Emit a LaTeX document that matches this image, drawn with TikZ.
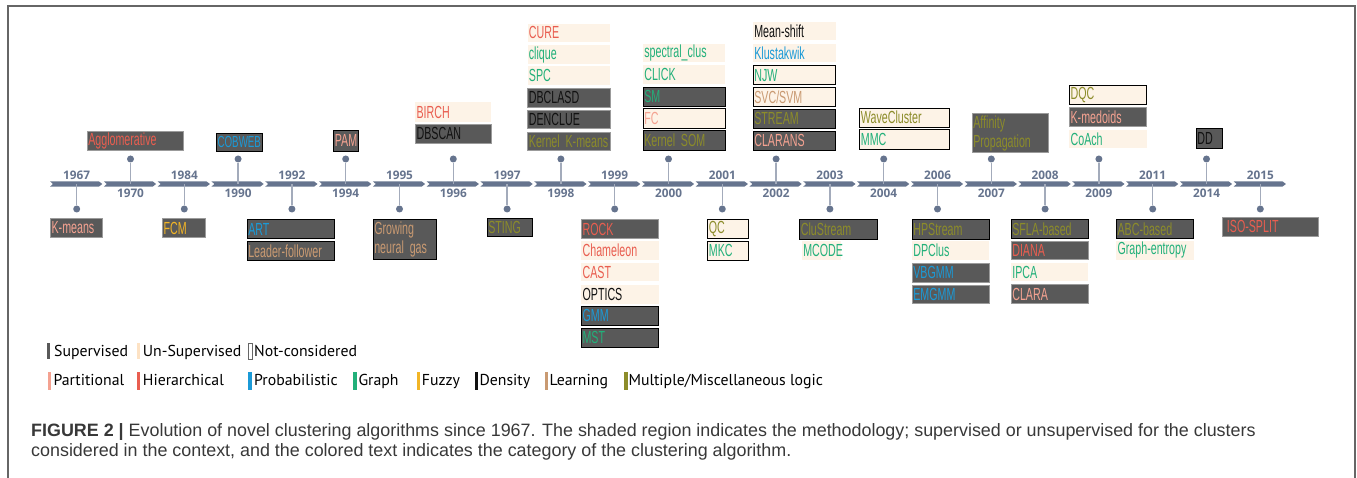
\documentclass[tikz,border=0pt]{standalone}
\usepackage{fontspec}
\setmainfont{Liberation Sans}
\newfontfamily\condf[FakeStretch=0.61]{Liberation Sans}
\newfontfamily\yearf{Open Sans}
\newfontfamily\legf{PT Sans}
\definecolor{supfill}{HTML}{595959}
\definecolor{unsfill}{HTML}{FDF3E7}
\definecolor{partc}{HTML}{F4A291}
\definecolor{hierc}{HTML}{E95E50}
\definecolor{probc}{HTML}{1B9AD7}
\definecolor{graphc}{HTML}{22B07A}
\definecolor{fuzzyc}{HTML}{F2B526}
\definecolor{densc}{HTML}{111111}
\definecolor{learnc}{HTML}{C99A72}
\definecolor{multc}{HTML}{8C8C2A}
\definecolor{barc}{HTML}{66748E}
\definecolor{stemc}{HTML}{A3ABBB}
\definecolor{framec}{HTML}{666666}
\definecolor{capc}{HTML}{383838}
\tikzset{
  abase/.style={inner xsep=1.2pt, inner ysep=0pt, align=left, font=\condf\fontsize{17.5}{19}\selectfont, line width=0.8pt},
  sup/.style={abase, fill=supfill, draw=supfill!60!white},
  supk/.style={abase, fill=supfill, draw=black},
  uns/.style={abase, fill=unsfill},
  ncb/.style={abase, fill=unsfill, draw=black},
  yearlab/.style={font=\yearf\bfseries\fontsize{11.8}{12}\selectfont, text=barc, inner sep=0pt},
  dotn/.style={circle, fill=barc, inner sep=0pt, minimum size=7pt},
  stem/.style={draw=stemc, line width=1.4pt},
  legtext/.style={font=\legf\fontsize{15.8}{17}\selectfont, text=black, anchor=base west, inner sep=0pt},
  capt/.style={font=\fontsize{17.9}{20}\selectfont, text=capc, anchor=base west, inner sep=0pt},
}
\newcommand\algbox[8]{%
  \pgfmathsetmacro\bw{#5-#3}\pgfmathsetmacro\bh{#6-#4}\pgfmathsetmacro\tw{#5-#3-2.4}%
  \node[#1, text=#7, minimum width=\bw pt, minimum height=\bh pt, text width=\tw pt, anchor=north west] (#2) at (#3,#4) {\mbox{#8}};}
\newcommand\algboxii[8]{%
  \pgfmathsetmacro\bw{#5-#3}\pgfmathsetmacro\bh{#6-#4}\pgfmathsetmacro\tw{#5-#3-2.4}%
  \node[#1, text=#7, minimum width=\bw pt, minimum height=\bh pt, text width=\tw pt, anchor=north west] (#2) at (#3,#4) {#8};}
\begin{document}
\begin{tikzpicture}[x=1pt,y=-1pt]
\useasboundingbox (0,0) rectangle (1357,478);
% frame
\draw[framec, line width=1.5pt] (8,478) -- (8,6) -- (1355,6) -- (1355,478);
% timeline
\foreach \yr [count=\i from 0] in {1967,1970,1984,1990,1992,1994,1995,1996,1997,1998,1999,2000,2001,2002,2003,2004,2006,2007,2008,2009,2011,2014,2015}{
  \pgfmathsetmacro\L{50+53.8*\i}
  \pgfmathsetmacro\R{\L+52.3}
  \pgfmathsetmacro\C{76.7+53.8*\i}
  \fill[barc] (\L,181.3) -- (\R-3.5,181.3) -- (\R,184) -- (\R-3.5,186.7) -- (\L,186.7) -- (\L+3,184) -- cycle;
  \coordinate (bar\i) at (\C,184);
  \ifodd\i
    \node[yearlab] (yr\i) at (\C,193.5) {\yr};
    \node[dotn] (dot\i) at (\C,159) {};
    \draw[stem] (bar\i) -- (dot\i);
  \else
    \node[yearlab] (yr\i) at (\C,175) {\yr};
    \node[dotn] (dot\i) at (\C,209) {};
    \draw[stem] (bar\i) -- (dot\i);
  \fi
}
% ---- above ----
\algbox{sup}{agg}{86.7}{131}{182.7}{150}{hierc}{Agglomerative}
\algbox{supk,font=\condf\fontsize{16}{19}\selectfont}{cobweb}{216}{133.3}{262}{150.7}{probc}{COBWEB}
\algbox{supk}{pam}{333.3}{130}{358.3}{150.7}{partc}{PAM}
\algbox{uns}{birch}{415}{102}{491}{121.7}{hierc}{BIRCH}
\algbox{sup}{dbscan}{415}{124}{491}{142.7}{densc}{DBSCAN}
% 1998
\algbox{uns}{cure}{527.3}{23.3}{610}{41.3}{hierc}{CURE}
\algbox{uns}{clique}{527.3}{45}{610}{63.3}{graphc}{clique}
\algbox{uns}{spc}{527.3}{66}{610}{84.3}{graphc}{SPC}
\algbox{sup}{dbclasd}{527.3}{88.3}{610}{106.7}{densc}{DBCLASD}
\algbox{sup}{denclue}{527.3}{110}{610}{128.3}{densc}{DENCLUE}
\algbox{sup}{kkm}{527.3}{131.7}{610}{150}{multc}{Kernel K-means}
% 2000
\algbox{uns}{spec}{642.7}{43.3}{725}{61.7}{graphc}{spectral\_clus}
\algbox{uns}{click}{642.7}{65}{725}{84}{graphc}{CLICK}
\algbox{supk}{sm}{642.7}{87}{725}{106}{graphc}{SM}
\algbox{ncb}{fc}{642.7}{108.5}{725}{128}{partc}{FC}
\algbox{supk}{ksom}{642.7}{130.5}{725}{150}{multc}{Kernel SOM}
% 2002
\algbox{uns}{meanshift}{752.7}{21.7}{835.3}{40}{densc}{Mean-shift}
\algbox{uns}{klusta}{752.7}{43.3}{835.3}{62}{probc}{Klustakwik}
\algbox{ncb}{njw}{752.7}{65.3}{835.3}{84.3}{graphc}{NJW}
\algbox{ncb}{svc}{752.7}{87.3}{835.3}{106.3}{learnc}{SVC/SVM}
\algbox{supk}{stream}{752.7}{109}{835.3}{128}{multc}{STREAM}
\algbox{supk}{clarans}{752.7}{131}{835.3}{150}{partc}{CLARANS}
% 2004
\algbox{ncb}{wave}{859.3}{107.7}{949.3}{126.7}{multc}{WaveCluster}
\algbox{ncb}{mmc}{859.3}{129.3}{949.3}{148.7}{graphc}{MMC}
% 2007
\algboxii{sup}{affinity}{971.7}{113.3}{1047.7}{152.3}{multc}{Affinity\\Propagation}
% 2009
\algbox{ncb}{dqc}{1069}{85}{1146.3}{104.3}{multc}{DQC}
\algbox{sup}{kmedoids}{1069}{106.7}{1146.3}{126}{partc}{K-medoids}
\algbox{uns}{coach}{1069}{129.3}{1146.3}{147.7}{graphc}{CoAch}
% 2014
\algbox{supk}{dd}{1195.7}{127.7}{1222.3}{147.7}{densc}{DD}
% ---- below ----
\algbox{sup}{kmeans}{50}{218.3}{101.7}{236.7}{partc}{K-means}
\algbox{sup}{fcm}{162}{218.3}{205.3}{237}{fuzzyc}{FCM}
\algbox{supk}{art}{246.7}{219}{334}{238.3}{probc}{ART}
\algbox{supk}{leader}{246.7}{240.7}{334}{260}{learnc}{Leader-follower}
\algboxii{supk}{gng}{372.7}{219.3}{436}{259.3}{learnc}{Growing\\neural gas}
\algbox{supk}{sting}{486.7}{218.3}{532}{235.7}{multc}{STING}
% 1999
\algbox{sup}{rock}{581}{219.3}{658.3}{238.3}{hierc}{ROCK}
\algbox{uns}{chameleon}{581}{240.7}{658.3}{259.3}{hierc}{Chameleon}
\algbox{uns}{cast}{581}{262.3}{658.3}{281}{hierc}{CAST}
\algbox{uns}{optics}{581}{284.3}{658.3}{303.3}{densc}{OPTICS}
\algbox{supk}{gmm}{581}{305.7}{658.3}{325}{probc}{GMM}
\algbox{supk}{mst}{581}{327.7}{658.3}{347.3}{graphc}{MST}
% 2001
\algbox{ncb}{qc}{707.3}{219}{747.7}{238.3}{multc}{QC}
\algbox{ncb}{mkc}{707.3}{241}{747.7}{260}{graphc}{MKC}
% 2003
\algbox{supk}{clustream}{799.3}{219}{877}{239}{multc}{CluStream}
\algbox{uns}{mcode}{801.7}{240.7}{841}{259.3}{graphc}{MCODE}
% 2006
\algbox{supk}{hpstream}{911.7}{219}{989}{238.7}{multc}{HPStream}
\algbox{uns}{dpclus}{911.7}{240.7}{989}{259.3}{graphc}{DPClus}
\algbox{sup}{vbgmm}{911.7}{263.3}{989}{281.7}{probc}{VBGMM}
\algbox{sup}{emgmm}{911.7}{285}{989}{303.3}{probc}{EMGMM}
% 2008
\algbox{supk}{sfla}{1010.7}{219}{1087.7}{238}{multc}{SFLA-based}
\algbox{sup}{diana}{1010.7}{240.7}{1087.7}{259.3}{hierc}{DIANA}
\algbox{uns}{ipca}{1010.7}{262.3}{1087.7}{281}{graphc}{IPCA}
\algbox{sup}{clara}{1010.7}{284}{1087.7}{303.3}{partc}{CLARA}
% 2011
\algbox{supk}{abc}{1116}{219}{1193.3}{238}{multc}{ABC-based}
\algbox{uns}{gent}{1116}{240.7}{1193.3}{259.3}{graphc}{Graph-entropy}
% 2015
\algbox{sup}{iso}{1222.3}{216.7}{1317.7}{235.7}{hierc}{\hspace*{3pt}ISO-SPLIT}
% ---- legend ----
\fill[supfill] (46.7,343.3) rectangle (50.3,359.3);
\node[legtext] (lsup) at (54,356) {Supervised};
\fill[unsfill!85!orange] (136.7,343.3) rectangle (140.3,359.3);
\node[legtext] (luns) at (142.7,356) {Un-Supervised};
\draw[framec, line width=0.6pt] (248.3,343.3) rectangle (252,359.3);
\node[legtext] (lnc) at (254,356) {Not-considered};
\fill[partc] (47.7,371.7) rectangle (51,390);
\node[legtext] (lpart) at (53.3,385) {Partitional};
\fill[hierc] (136.7,371.7) rectangle (140,390);
\node[legtext] (lhier) at (142.7,385) {Hierarchical};
\fill[probc] (248.3,371.7) rectangle (251.6,390);
\node[legtext] (lprob) at (254,385) {Probabilistic};
\fill[graphc] (353.3,371.7) rectangle (356.6,390);
\node[legtext] (lgraph) at (358.3,385) {Graph};
\fill[fuzzyc] (416.7,371.7) rectangle (420,390);
\node[legtext] (lfuzzy) at (421.7,385) {Fuzzy};
\fill[densc] (475,371.7) rectangle (478.3,390);
\node[legtext] (ldens) at (479.3,385) {Density};
\fill[learnc] (545,371.7) rectangle (548.3,390);
\node[legtext] (llearn) at (549.3,385) {Learning};
\fill[multc] (624.3,371.7) rectangle (627.6,390);
\node[legtext] (lmult) at (628.3,385) {Multiple/Miscellaneous logic};
% ---- caption ----
\node[capt] (cap1) at (31,436) {\textbf{FIGURE 2 |} Evolution of novel clustering algorithms since 1967. The shaded region indicates the methodology; supervised or unsupervised for the clusters};
\node[capt] (cap2) at (31,456.5) {considered in the context, and the colored text indicates the category of the clustering algorithm.};
\end{tikzpicture}
\end{document}
